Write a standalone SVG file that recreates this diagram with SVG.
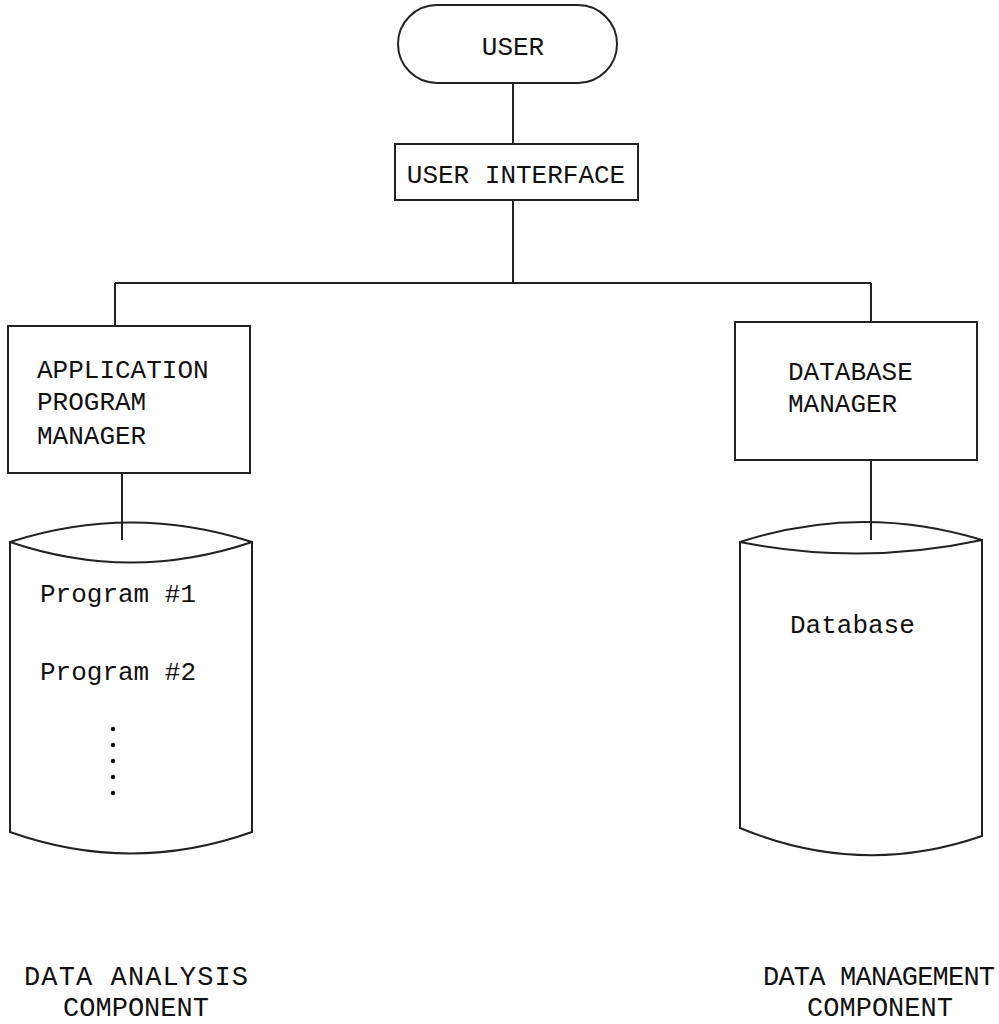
<svg xmlns="http://www.w3.org/2000/svg" width="999" height="1024" viewBox="0 0 999 1024">
<style>
.s{fill:#fff;stroke:#222;stroke-width:2}
.l{fill:none;stroke:#222;stroke-width:2}
.t{font-family:"Liberation Mono","Courier New",monospace;font-size:26px;fill:#111}
.b{font-size:27px}
.c{text-anchor:middle}
</style>
<rect width="999" height="1024" fill="#fff"/>
<g id="connectors">
<path class="l" d="M513 83 V144"/>
<path class="l" d="M513 200 V283"/>
<path class="l" d="M115 283 H871"/>
<path class="l" d="M115 283 V326"/>
<path class="l" d="M871 283 V322"/>
<path class="l" d="M122 473 V540"/>
<path class="l" d="M871 460 V540"/>
</g>
<g id="user">
<rect class="s" x="398" y="5" width="219" height="78" rx="39"/>
<text class="t c" x="513" y="55">USER</text>
</g>
<g id="user-interface">
<rect class="s" x="395" y="144" width="243" height="56"/>
<text class="t c" x="516" y="183">USER INTERFACE</text>
</g>
<g id="app-manager">
<rect class="s" x="8" y="326" width="242" height="147"/>
<text class="t" x="37" y="378">APPLICATION</text>
<text class="t" x="37" y="410">PROGRAM</text>
<text class="t" x="37" y="444">MANAGER</text>
</g>
<g id="db-manager">
<rect class="s" x="735" y="322" width="242" height="138"/>
<text class="t" x="788" y="380">DATABASE</text>
<text class="t" x="788" y="412">MANAGER</text>
</g>
<g id="programs">
<path class="s" d="M10 542 Q131 503 252 542 V832 Q131 875 10 832 Z"/>
<path class="l" d="M10 542 Q131 583 252 542"/>
<path class="l" d="M122 523 V540"/>
<text class="t" x="40" y="602">Program #1</text>
<text class="t" x="40" y="680">Program #2</text>
<g fill="#111"><circle cx="113" cy="729" r="2.2"/><circle cx="113" cy="745" r="2.2"/><circle cx="113" cy="761" r="2.2"/><circle cx="113" cy="777" r="2.2"/><circle cx="113" cy="793" r="2.2"/></g>
</g>
<g id="database">
<path class="s" d="M740 542 Q861 503 982 540 V836 Q861 878 740 828 Z"/>
<path class="l" d="M740 542 Q861 566 982 540"/>
<path class="l" d="M871 523 V540"/>
<text class="t" x="790" y="633">Database</text>
</g>
<g id="labels">
<text class="t b c" x="136" y="985" textLength="224" lengthAdjust="spacing">DATA ANALYSIS</text>
<text class="t b c" x="136" y="1016">COMPONENT</text>
<text class="t b c" x="879" y="985" textLength="232" lengthAdjust="spacing">DATA MANAGEMENT</text>
<text class="t b c" x="880" y="1016">COMPONENT</text>
</g>
</svg>
